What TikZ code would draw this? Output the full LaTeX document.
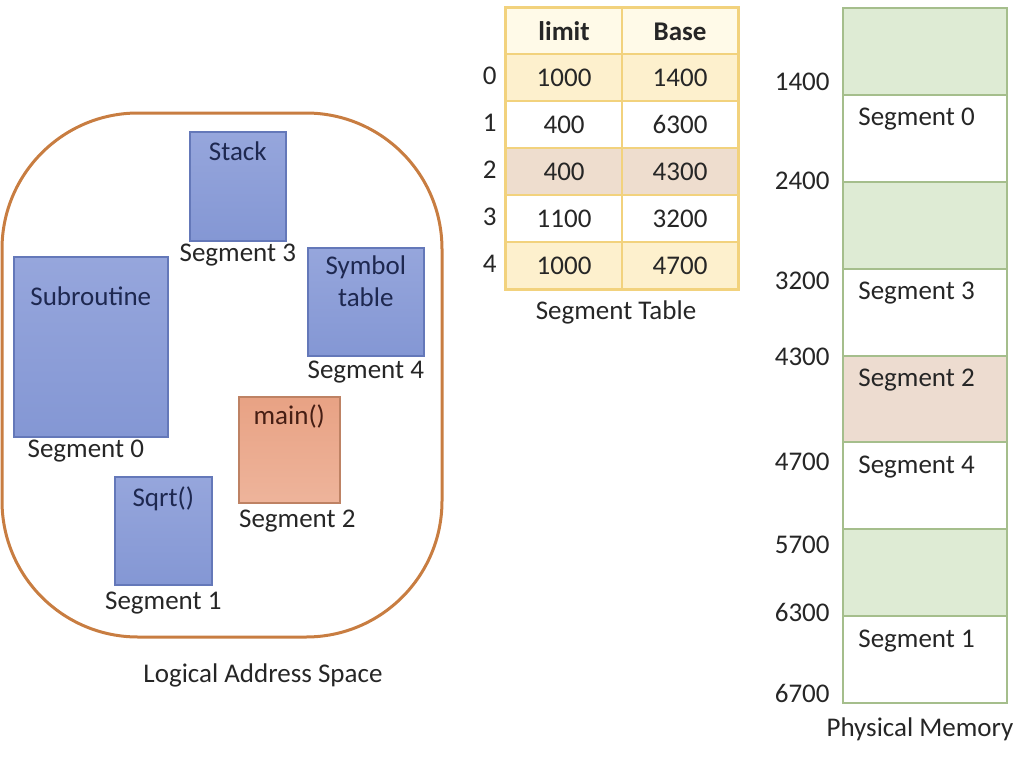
\documentclass[tikz,border=0pt]{standalone}
\usepackage{fontspec}
\setmainfont{Carlito}
\usetikzlibrary{positioning}
\definecolor{spaceedge}{RGB}{200,125,65}
\definecolor{partedge}{RGB}{100,120,185}
\definecolor{partlight}{RGB}{150,166,220}
\definecolor{partdark}{RGB}{132,151,212}
\definecolor{mainedge}{RGB}{190,130,100}
\definecolor{mainlight}{RGB}{232,162,132}
\definecolor{maindark}{RGB}{238,180,155}
\definecolor{partink}{RGB}{30,40,80}
\definecolor{mainink}{RGB}{70,30,20}
\definecolor{tableedge}{RGB}{242,210,125}
\definecolor{headfill}{RGB}{255,250,232}
\definecolor{rowyellow}{RGB}{253,240,205}
\definecolor{rowbeige}{RGB}{238,221,206}
\definecolor{memedge}{RGB}{165,190,140}
\definecolor{memgreen}{RGB}{222,235,212}
\definecolor{mempink}{RGB}{237,220,208}
\newcommand{\segfont}{\fontsize{13.5}{16}\selectfont}
\tikzset{
  part/.style={draw=partedge,line width=0.8pt,top color=partlight,bottom color=partdark,
               inner sep=0pt,anchor=north west},
  mainpart/.style={part,draw=mainedge,top color=mainlight,bottom color=maindark},
  title/.style={font=\segfont,text=partink,inner sep=1pt,align=center},
  tag/.style={font=\segfont,text=black!85,inner sep=1pt},
  cell/.style={draw=tableedge,line width=1.1pt,minimum width=58pt,minimum height=23.5pt,
               inner sep=0pt,anchor=north west,font=\segfont,text=black!85},
  block/.style={draw=memedge,line width=0.9pt,fill=white,minimum width=82pt,minimum height=43.5pt,
                inner sep=0pt,anchor=north west},
  free/.style={block,fill=memgreen},
  addr/.style={font=\segfont,text=black!85,anchor=east,inner sep=1pt},
}

\begin{document}
\begin{tikzpicture}[x=0.5pt,y=-0.5pt]
  \path[use as bounding box] (0,0) rectangle (1024,756);

  % logical address space
  \draw[spaceedge,line width=1.5pt,rounded corners=68pt] (2,113) rectangle (442,637);

  \node[part,minimum width=48pt,minimum height=54.5pt] (stack) at (189,131) {};
  \node[title,below=4pt of stack.north] {Stack};
  \node[tag,below=0pt of stack] {Segment 3};

  \node[part,minimum width=58pt,minimum height=54pt] (symtab) at (307,247) {};
  \node[title,below=3pt of symtab.north] {Symbol\\table};
  \node[tag,below=1pt of symtab] {Segment 4};

  \node[part,minimum width=77pt,minimum height=90pt] (subr) at (13,256) {};
  \node[title,below=14pt of subr.north] {Subroutine};
  \node[tag,below=0pt of subr,xshift=-2.5pt] {Segment 0};

  \node[mainpart,minimum width=50.5pt,minimum height=53pt] (mainfn) at (238,396) {};
  \node[title,text=mainink,below=3pt of mainfn.north] {main()};
  \node[tag,below=2pt of mainfn,xshift=4pt] {Segment 2};

  \node[part,minimum width=48.5pt,minimum height=54pt] (sqrt) at (114,476) {};
  \node[title,below=4pt of sqrt.north] {Sqrt()};
  \node[tag,below=2pt of sqrt] {Segment 1};

  \node[tag] (logcap) at (263,675) {Logical Address Space};

  % segment table
  \node[cell,fill=headfill] (limh) at (505,7) {\textbf{limit}};
  \node[cell,fill=headfill] (baseh) at (621,7) {\textbf{Base}};
  \node[cell,fill=rowyellow] (lim0) at (505,53) {1000};
  \node[cell,fill=rowyellow] (base0) at (621,53) {1400};
  \node[cell,fill=white] (lim1) at (505,100) {400};
  \node[cell,fill=white] (base1) at (621,100) {6300};
  \node[cell,fill=rowbeige] (lim2) at (505,147) {400};
  \node[cell,fill=rowbeige] (base2) at (621,147) {4300};
  \node[cell,fill=white] (lim3) at (505,194) {1100};
  \node[cell,fill=white] (base3) at (621,194) {3200};
  \node[cell,fill=rowyellow] (lim4) at (505,241) {1000};
  \node[cell,fill=rowyellow] (base4) at (621,241) {4700};
  \draw[tableedge,line width=1.1pt] (limh.north west) rectangle (base4.south east);

  \node[addr,left=3pt of lim0,yshift=1pt] {0};
  \node[addr,left=3pt of lim1,yshift=1pt] {1};
  \node[addr,left=3pt of lim2,yshift=1pt] {2};
  \node[addr,left=3pt of lim3,yshift=1pt] {3};
  \node[addr,left=3pt of lim4,yshift=1pt] {4};
  \node[tag] (tabcap) at (616,312) {Segment Table};

  % physical memory
  \node[free] (m0) at (842,7) {};
  \node[block] (m1) at (842,94) {};
  \node[free] (m2) at (842,181) {};
  \node[block] (m3) at (842,268) {};
  \node[block,fill=mempink] (m4) at (842,355) {};
  \node[block] (m5) at (842,441) {};
  \node[free] (m6) at (842,528) {};
  \node[block] (m7) at (842,615) {};

  \node[tag,anchor=west] at ([xshift=7pt,yshift=-12.5pt]m1.north west) {Segment 0};
  \node[tag,anchor=west] at ([xshift=7pt,yshift=-12.5pt]m3.north west) {Segment 3};
  \node[tag,anchor=west] at ([xshift=7pt,yshift=-12.5pt]m4.north west) {Segment 2};
  \node[tag,anchor=west] at ([xshift=7pt,yshift=-13pt]m5.north west) {Segment 4};
  \node[tag,anchor=west] at ([xshift=7pt,yshift=-13pt]m7.north west) {Segment 1};

  \node[addr] at (832,82) {1400};
  \node[addr] at (832,181) {2400};
  \node[addr] at (832,281) {3200};
  \node[addr] at (832,357) {4300};
  \node[addr] at (832,462) {4700};
  \node[addr] at (832,545) {5700};
  \node[addr] at (832,612) {6300};
  \node[addr] at (832,693) {6700};
  \node[tag] (memcap) at (920,729) {Physical Memory};
\end{tikzpicture}
\end{document}
